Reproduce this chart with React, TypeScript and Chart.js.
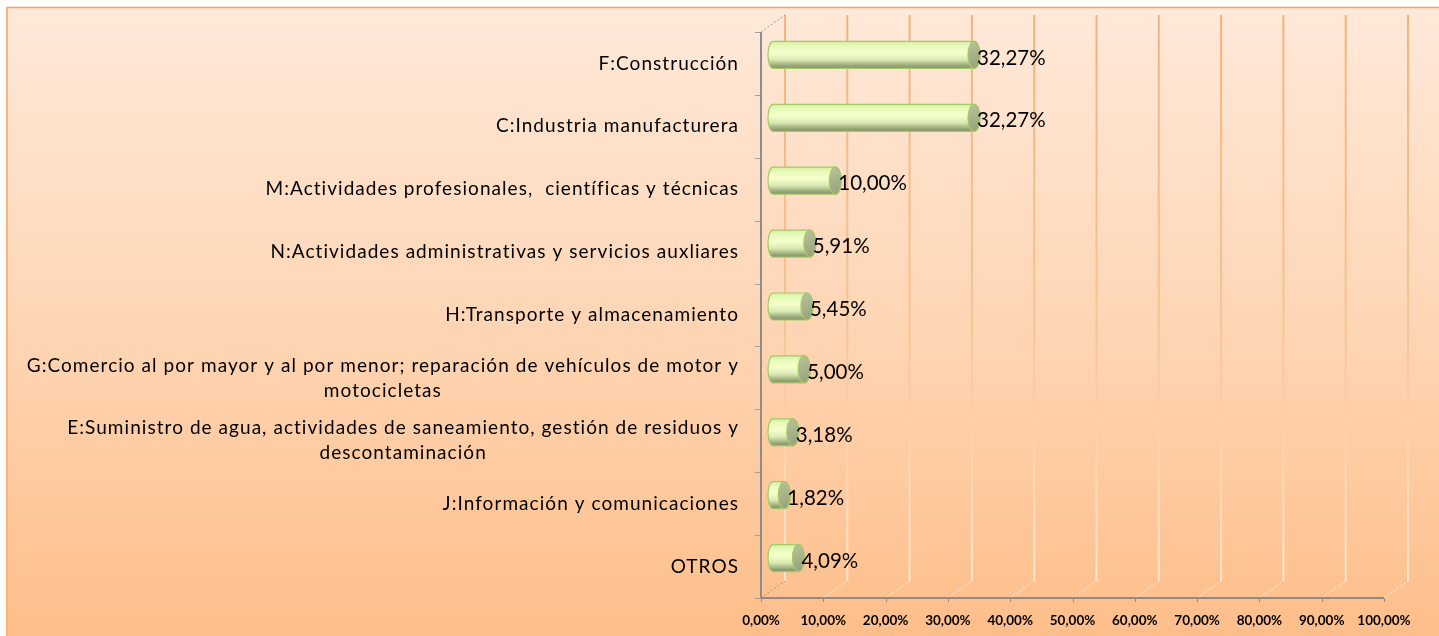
import React, { useEffect, useRef } from "react";
import { Chart, registerables } from "chart.js";

Chart.register(...registerables);

const categories: (string | string[])[] = [
  "F:Construcción",
  "C:Industria manufacturera",
  "M:Actividades profesionales,  científicas y técnicas",
  "N:Actividades administrativas y servicios auxliares",
  "H:Transporte y almacenamiento",
  ["G:Comercio al por mayor y al por menor; reparación de vehículos de motor y", "motocicletas"],
  ["E:Suministro de agua, actividades de saneamiento, gestión de residuos y", "descontaminación"],
  "J:Información y comunicaciones",
  "OTROS",
];
const values = [32.27, 32.27, 10.0, 5.91, 5.45, 5.0, 3.18, 1.82, 4.09];
const xTickValues = [0, 10, 20, 30, 40, 50, 60, 70, 80, 90, 100];

const fmtPct = (v: number) => v.toFixed(2).replace(".", ",") + "%";

// 3D depth offsets (bars sit in the middle of the depth)
const DX = 12;
const DY = 8.5;
const FONT = "Lato, 'Open Sans', sans-serif";

const walls = {
  id: "walls",
  beforeDraw(chart: any) {
    const { ctx, width, height, chartArea } = chart;
    const xs = chart.scales.x;
    ctx.save();
    ctx.fillStyle = "#ffffff";
    ctx.fillRect(0, 0, width, height);
    const bg = ctx.createLinearGradient(0, 7, 0, height);
    bg.addColorStop(0, "#FEE9DA");
    bg.addColorStop(0.5, "#FED6B5");
    bg.addColorStop(1, "#FEBE8A");
    ctx.fillStyle = bg;
    ctx.fillRect(6, 7, width - 6, height - 7);
    ctx.strokeStyle = "#F2A263";
    ctx.lineWidth = 1.5;
    ctx.beginPath();
    ctx.moveTo(6, 7.5);
    ctx.lineTo(width, 7.5);
    ctx.stroke();
    ctx.strokeStyle = "#F8B47C";
    ctx.lineWidth = 2;
    ctx.beginPath();
    ctx.moveTo(7, 7);
    ctx.lineTo(7, height);
    ctx.stroke();

    const backTop = chartArea.top - DY;
    const backBottom = chartArea.bottom - DY;
    const frontTop = chartArea.top + DY;
    const frontBottom = chartArea.bottom + DY;

    // back wall gridlines
    const gg = ctx.createLinearGradient(0, backTop, 0, backBottom);
    gg.addColorStop(0, "#F6B27A");
    gg.addColorStop(0.55, "#F9C394");
    gg.addColorStop(1, "#FFE6D0");
    ctx.strokeStyle = gg;
    ctx.lineWidth = 2;
    xTickValues.forEach((v) => {
      const x = xs.getPixelForValue(v) + DX;
      ctx.beginPath();
      ctx.moveTo(x, backTop);
      ctx.lineTo(x, backBottom);
      ctx.stroke();
    });

    // floor diagonals
    ctx.lineWidth = 1;
    ctx.setLineDash([2, 2]);
    xTickValues.forEach((v, i) => {
      const x = xs.getPixelForValue(v) - DX;
      ctx.strokeStyle = i === 0 ? "rgba(140,140,140,0.8)" : "rgba(255,255,255,0.75)";
      ctx.beginPath();
      ctx.moveTo(x, frontBottom);
      ctx.lineTo(x + 2 * DX, backBottom);
      ctx.stroke();
    });
    // top-left diagonal
    const x0 = xs.getPixelForValue(0) - DX;
    ctx.strokeStyle = "rgba(140,140,140,0.8)";
    ctx.beginPath();
    ctx.moveTo(x0, frontTop);
    ctx.lineTo(x0 + 2 * DX, backTop);
    ctx.stroke();
    ctx.setLineDash([]);
    ctx.restore();
  },
  afterDatasetsDraw(chart: any) {
    const { ctx } = chart;
    const meta = chart.getDatasetMeta(0);
    ctx.save();
    meta.data.forEach((el: any, i: number) => {
      const { x, y, base, height } = el.getProps(["x", "y", "base", "height"], true);
      const hh = height / 2;
      const top = y - hh;
      const bottom = y + hh;
      const rx = 6;
      const g = ctx.createLinearGradient(0, top, 0, bottom);
      g.addColorStop(0, "#D6EEA2");
      g.addColorStop(0.15, "#E7F9B8");
      g.addColorStop(0.42, "#F6FFCB");
      g.addColorStop(0.68, "#D9E9B2");
      g.addColorStop(0.87, "#A0AF80");
      g.addColorStop(1, "#7E8E60");
      ctx.beginPath();
      ctx.moveTo(base, top);
      ctx.lineTo(x, top);
      ctx.ellipse(x, y, rx, hh, 0, -Math.PI / 2, Math.PI / 2, false);
      ctx.lineTo(base, bottom);
      ctx.ellipse(base, y, rx - 1, hh, 0, Math.PI / 2, (3 * Math.PI) / 2, false);
      ctx.closePath();
      ctx.fillStyle = g;
      ctx.fill();
      ctx.strokeStyle = "#A6C86A";
      ctx.lineWidth = 1.2;
      ctx.stroke();
      // cap
      const cg = ctx.createLinearGradient(x - rx, top, x + rx, bottom);
      cg.addColorStop(0, "#B9C49C");
      cg.addColorStop(1, "#95A078");
      ctx.beginPath();
      ctx.ellipse(x, y, rx, hh, 0, 0, Math.PI * 2);
      ctx.fillStyle = cg;
      ctx.fill();
      ctx.strokeStyle = "#A6C86A";
      ctx.stroke();
      // value label
      ctx.fillStyle = "#000000";
      ctx.font = `20.5px ${FONT}`;
      ctx.textAlign = "left";
      ctx.textBaseline = "middle";
      ctx.fillText(fmtPct(values[i]), x + rx - 3, y + 3);
    });
    ctx.restore();
  },
  afterDraw(chart: any) {
    const { ctx, chartArea } = chart;
    const xs = chart.scales.x;
    const ys = chart.scales.y;
    const frontTop = chartArea.top + DY;
    const frontBottom = chartArea.bottom + DY;
    const fx0 = xs.getPixelForValue(0) - DX;
    const fx1 = xs.getPixelForValue(100) - DX;
    ctx.save();
    // left wall axis
    ctx.strokeStyle = "#8C8C8C";
    ctx.lineWidth = 2;
    ctx.beginPath();
    ctx.moveTo(fx0, frontTop);
    ctx.lineTo(fx0, frontBottom);
    ctx.stroke();
    ctx.lineWidth = 1;
    ctx.strokeStyle = "#A0A0A0";
    const n = categories.length;
    const band = (frontBottom - frontTop) / n;
    for (let k = 0; k <= n; k++) {
      const yy = Math.round(frontTop + k * band) + 0.5;
      ctx.beginPath();
      ctx.moveTo(fx0 - 6, yy);
      ctx.lineTo(fx0, yy);
      ctx.stroke();
    }
    // front x axis
    ctx.strokeStyle = "#8C8C8C";
    ctx.lineWidth = 2;
    ctx.beginPath();
    ctx.moveTo(fx0, frontBottom);
    ctx.lineTo(fx1, frontBottom);
    ctx.stroke();
    ctx.lineWidth = 1;
    xTickValues.forEach((v) => {
      const xx = Math.round(xs.getPixelForValue(v) - DX) + 0.5;
      ctx.beginPath();
      ctx.moveTo(xx, frontBottom);
      ctx.lineTo(xx, frontBottom + 4);
      ctx.stroke();
    });

    // category labels
    ctx.fillStyle = "#000000";
    ctx.font = `19px ${FONT}`;
    try {
      (ctx as any).letterSpacing = "1.05px";
    } catch (e) {}
    ctx.textBaseline = "middle";
    const right = fx0 - 22;
    categories.forEach((lab, i) => {
      const lines = Array.isArray(lab) ? lab : [lab];
      const cy = ys.getPixelForTick(i) + DY;
      const lh = 25;
      const widest = Math.max(...lines.map((l) => ctx.measureText(l).width));
      lines.forEach((l, j) => {
        const yy = cy - ((lines.length - 1) * lh) / 2 + j * lh;
        if (lines.length === 1) {
          ctx.textAlign = "right";
          ctx.fillText(l, right, yy);
        } else {
          ctx.textAlign = "center";
          ctx.fillText(l, right - widest / 2, yy);
        }
      });
    });
    ctx.restore();
  },
};

export default function App() {
  const ref = useRef<HTMLCanvasElement | null>(null);
  useEffect(() => {
    if (!ref.current) return;
    const chart = new Chart(ref.current, {
      type: "bar",
      data: {
        labels: categories as any,
        datasets: [
          {
            data: values,
            backgroundColor: "rgba(0,0,0,0)",
            borderWidth: 0,
            barThickness: 27,
          },
        ],
      },
      options: {
        indexAxis: "y",
        responsive: false,
        animation: false,
        layout: { padding: { top: 23.5, right: 43, left: 0, bottom: 0 } },
        plugins: { legend: { display: false }, tooltip: { enabled: false } },
        scales: {
          x: {
            type: "linear",
            min: 0,
            max: 100,
            afterBuildTicks: (scale: any) => {
              scale.ticks = xTickValues.map((v) => ({ value: v }));
            },
            afterFit: (scale: any) => {
              scale.height = 46.5;
              scale.paddingLeft = 0;
              scale.paddingRight = 0;
            },
            grid: { display: false, drawTicks: false },
            border: { display: false },
            ticks: {
              callback: (v: any) => fmtPct(Number(v)),
              font: { family: FONT, size: 13.5, weight: "bold" },
              color: "#000000",
              padding: 23,
              labelOffset: -DX,
              maxRotation: 0,
              autoSkip: false,
            },
          },
          y: {
            type: "category",
            afterFit: (scale: any) => {
              scale.width = 773;
              scale.paddingTop = 0;
              scale.paddingBottom = 0;
            },
            grid: { display: false, drawTicks: false },
            border: { display: false },
            ticks: { display: false },
          },
        },
      },
      plugins: [walls],
    });
    return () => chart.destroy();
  }, []);
  return (
    <div style={{ position: "fixed", left: 0, top: 0, width: 1439, height: 636 }}>
      <canvas ref={ref} width={1439} height={636} style={{ display: "block" }} />
    </div>
  );
}
